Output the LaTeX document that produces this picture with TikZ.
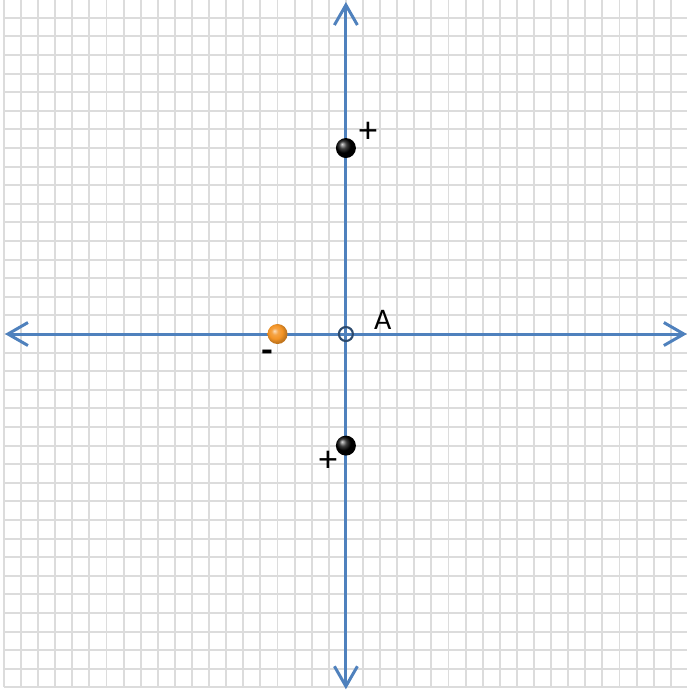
\documentclass[tikz,border=0pt]{standalone}
\usepackage{fontspec}
\setmainfont{Carlito}
\usetikzlibrary{positioning,arrows.meta}
\definecolor{Azul}{HTML}{4F81BD}
\definecolor{AzulOscuro}{HTML}{2C4A6E}
\definecolor{Rejilla}{HTML}{DCDCDC}
\definecolor{Naranja}{HTML}{F39426}
\pgfdeclareradialshading{bolanaranja}{\pgfqpoint{-8bp}{8bp}}{%
  color(0bp)=(Naranja!30!white); color(8bp)=(Naranja!85!white);
  color(17bp)=(Naranja); color(25bp)=(Naranja!80!black); color(50bp)=(Naranja!80!black)}

\begin{document}
\begin{tikzpicture}[x=0.342cm,y=0.372cm,
    eje/.style={Azul,line width=1.7pt,{Straight Barb[length=0.4cm,width=0.46cm]}-{Straight Barb[length=0.4cm,width=0.46cm]}},
    carga/.style={circle,inner sep=0pt,minimum size=0.4cm,shade},
    signo/.style={font=\fontsize{21}{21}\selectfont,inner sep=0pt}]
  \useasboundingbox (-20.23,-19.57) rectangle (19.94,17.96);
  \fill[white] (-20.23,-19.57) rectangle (19.94,17.96);
  % rejilla
  \foreach \x in {-20,...,20} {\draw[Rejilla,line width=1.1pt] (\x,-19) -- (\x,18);}
  \foreach \y in {-19,...,18} {\draw[Rejilla,line width=1.1pt] (-20,\y) -- (20,\y);}
  % ejes
  \coordinate (izq) at (-19.94,0);
  \coordinate (der) at (19.94,0);
  \coordinate (arriba) at (0,17.85);
  \coordinate (abajo) at (0,-19.1);
  \draw[eje] (izq) -- (der);
  \draw[eje] (abajo) -- (arriba);
  \node[circle,draw=AzulOscuro,line width=1.2pt,minimum size=0.28cm,inner sep=0pt] (A) at (0,0) {};
  \node[font=\fontsize{17}{17}\selectfont,inner sep=0pt] (etA) at (2.16,0.75) {A};
  % cargas
  \node[carga,ball color=black] (q1) at (0,10) {};
  \node[carga,ball color=black] (q2) at (0,-6) {};
  \node[carga,shading=bolanaranja] (q3) at (-4,0) {};
  \node[signo] (s1) at (1.29,10.86) {+};
  \node[signo] (s2) at (-1.05,-6.83) {+};
  \node[signo,font=\fontsize{21}{21}\selectfont\bfseries] (s3) at (-4.62,-1.22) {-};
\end{tikzpicture}
\end{document}
